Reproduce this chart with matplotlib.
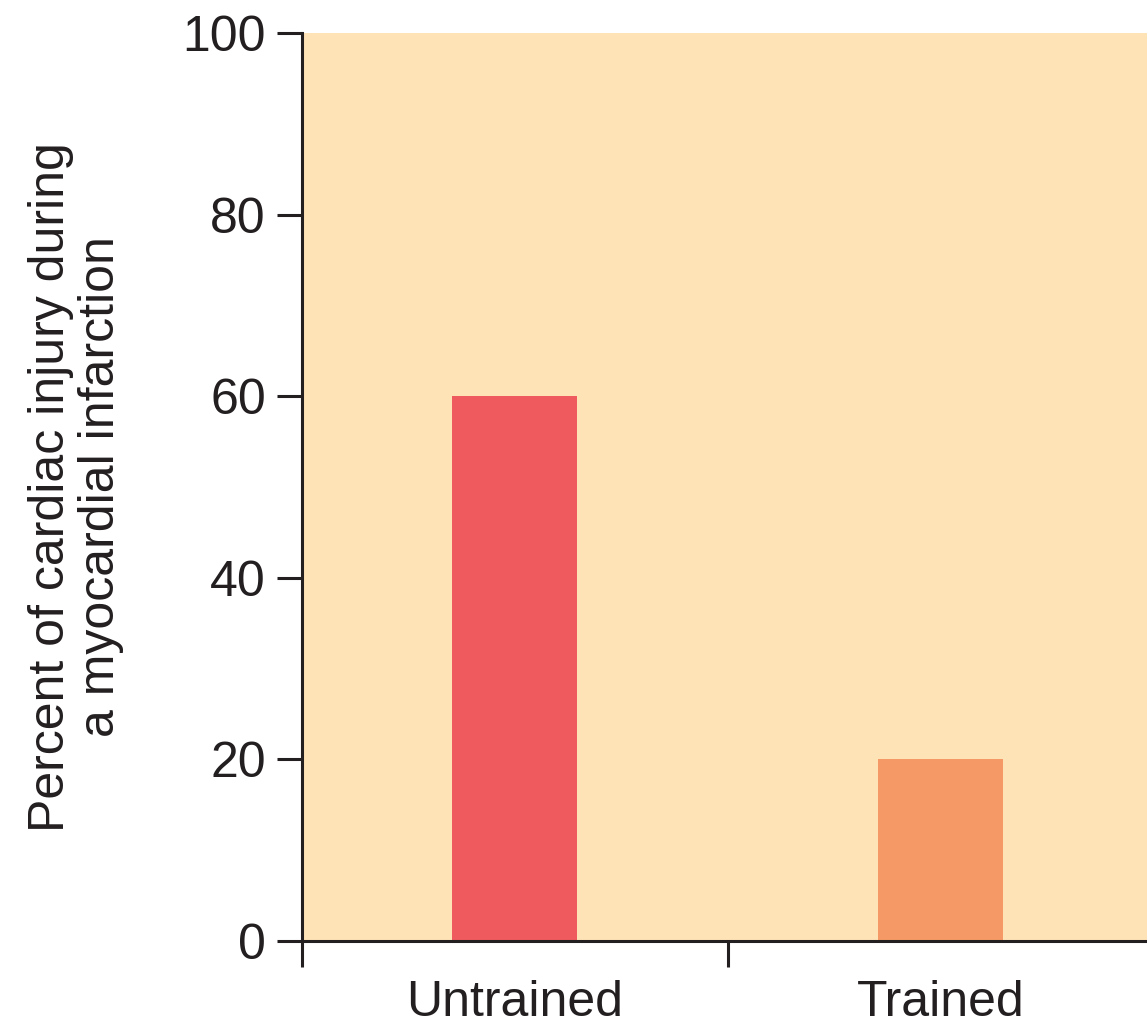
import numpy as np
import matplotlib.pyplot as plt

groups = ['Untrained', 'Trained']
injury_pct = [60, 20]
bar_colors = ['#EE5A5E', '#F59A66']
y_ticks = [0, 20, 40, 60, 80, 100]


def main():
    plt.rcParams['font.family'] = ['Liberation Sans', 'DejaVu Sans']
    fig = plt.figure(figsize=(11.47, 10.25), dpi=100)
    ax = fig.add_axes([302 / 1147, 1 - 941 / 1025, 1 - 302 / 1147, (941 - 33) / 1025])
    ax.set_facecolor('#FDE3B6')

    pos = np.arange(len(groups)) + 0.5
    ax.bar(pos, injury_pct, width=0.294, color=bar_colors, zorder=2)

    ax.set_xlim(0, 1.985)
    ax.set_ylim(0, 100)

    # ticks at group boundaries (right one falls off the picture), labels in between
    ax.set_xticks(np.arange(len(groups)))
    ax.set_xticklabels([])
    ax.set_xticks(pos, minor=True)
    ax.set_xticklabels(groups, minor=True, fontsize=36, color='#231F20')
    ax.tick_params(axis='x', which='major', direction='out', length=19, width=2.2, color='#231F20')
    ax.tick_params(axis='x', which='minor', length=0, pad=28)

    ax.set_yticks(y_ticks)
    ax.tick_params(axis='y', direction='out', length=18, width=2.2, color='#231F20',
                   labelsize=36, labelcolor='#231F20', pad=8)

    for side in ['top', 'right']:
        ax.spines[side].set_visible(False)
    for side in ['left', 'bottom']:
        ax.spines[side].set_linewidth(2.2)
        ax.spines[side].set_color('#231F20')

    ax.set_ylabel('Percent of cardiac injury during\na myocardial infarction',
                  fontsize=36, color='#231F20', labelpad=42, linespacing=1.12)

    fig.savefig('out.png', dpi=100)


if __name__ == "__main__":
    main()
